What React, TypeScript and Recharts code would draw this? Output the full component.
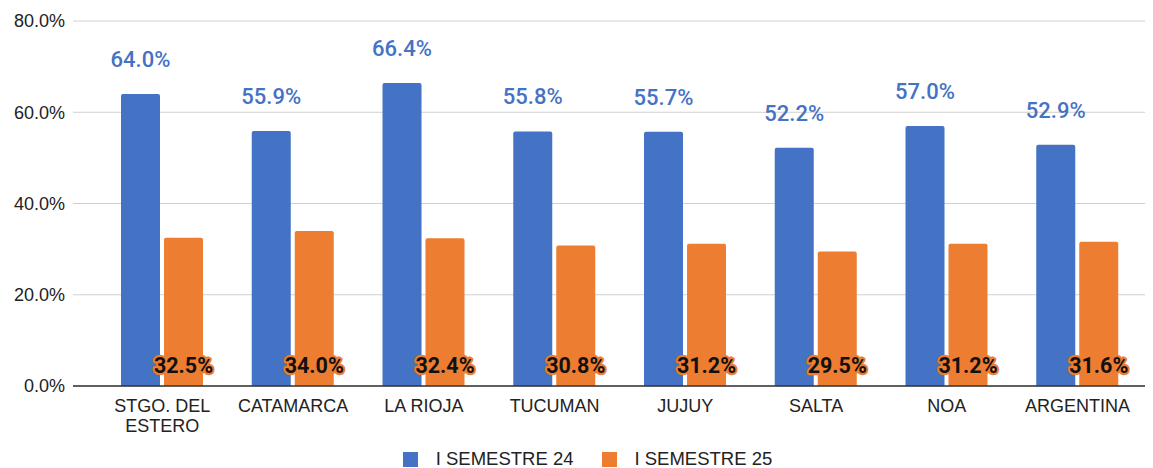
import { BarChart, Bar, XAxis, YAxis, CartesianGrid, Legend, LabelList } from 'recharts'

const regions = ['STGO. DEL ESTERO', 'CATAMARCA', 'LA RIOJA', 'TUCUMAN', 'JUJUY', 'SALTA', 'NOA', 'ARGENTINA']
const sem24 = [64.0, 55.9, 66.4, 55.8, 55.7, 52.2, 57.0, 52.9]
const sem25 = [32.5, 34.0, 32.4, 30.8, 31.2, 29.5, 31.2, 31.6]
const yTicks = [0, 20, 40, 60, 80]

const BLUE = '#4472C4'
const ORANGE = '#ED7D31'
const AXIS_FONT = "'Liberation Sans', Arial, sans-serif"
const LABEL_FONT = "Roboto, 'Liberation Sans', sans-serif"

const data = regions.map((name, i) => ({ name, s24: sem24[i], s25: sem25[i] }))

const pct = (v: number) => `${v.toFixed(1)}%`

// split "STGO. DEL ESTERO" onto two lines
function RegionTick(props: any) {
  const { x, y, payload } = props
  const label: string = payload.value
  const lines = label === 'STGO. DEL ESTERO' ? ['STGO. DEL', 'ESTERO'] : [label]
  return (
    <text x={x} y={y} textAnchor="middle" fill="#222" fontSize={18} fontFamily={AXIS_FONT}>
      {lines.map((l, i) => (
        <tspan key={i} x={x} dy={i === 0 ? 18 : 20}>
          {l}
        </tspan>
      ))}
    </text>
  )
}

// orange labels sit near the baseline, black text with an orange halo
function BottomLabel(props: any) {
  const { x, y, width, height, value } = props
  return (
    <text
      x={x + width / 2}
      y={y + height - 13}
      textAnchor="middle"
      fontSize={21.5}
      fontWeight={700}
      fontFamily={LABEL_FONT}
      fill="#111"
      stroke={ORANGE}
      strokeWidth={4.5}
      strokeLinejoin="round"
      paintOrder="stroke"
    >
      {pct(value)}
    </text>
  )
}

function LegendContent() {
  const items = [
    { label: 'I SEMESTRE 24', color: BLUE },
    { label: 'I SEMESTRE 25', color: ORANGE },
  ]
  return (
    <div style={{ display: 'flex', justifyContent: 'center', gap: 28, paddingLeft: 30, fontFamily: AXIS_FONT, fontSize: 18.5, lineHeight: '22px', color: '#222' }}>
      {items.map((it) => (
        <div key={it.label} style={{ display: 'flex', alignItems: 'center', gap: 18 }}>
          <span style={{ width: 15, height: 15, background: it.color, display: 'inline-block' }} />
          <span>{it.label}</span>
        </div>
      ))}
    </div>
  )
}

export default function App() {
  return (
    <div style={{ position: 'absolute', left: 0, top: 0, background: '#fff' }}>
      <BarChart
        width={1153}
        height={468}
        data={data}
        margin={{ top: 21, right: 8, left: 0, bottom: 0 }}
        barCategoryGap={24}
        barGap={4}
      >
        <CartesianGrid vertical={false} stroke="#d0d0d0" />
        <XAxis
          dataKey="name"
          interval={0}
          tick={<RegionTick />}
          tickLine={false}
          axisLine={{ stroke: '#333', strokeWidth: 1.5 }}
          height={62}
          padding={{ left: 24, right: 2 }}
        />
        <YAxis
          domain={[0, 80]}
          ticks={yTicks}
          tickFormatter={pct}
          axisLine={false}
          tickLine={false}
          width={73}
          tickMargin={2}
          tick={{ fill: '#222', fontSize: 18, fontFamily: AXIS_FONT }}
        />
        <Legend verticalAlign="bottom" height={20} content={<LegendContent />} />
        <Bar dataKey="s24" name="I SEMESTRE 24" fill={BLUE} radius={[2, 2, 0, 0]} isAnimationActive={false}>
          <LabelList
            dataKey="s24"
            position="top"
            offset={27}
            formatter={(v: any) => pct(Number(v))}
            fill={BLUE}
            fontSize={22}
            fontWeight={500}
            fontFamily={LABEL_FONT}
          />
        </Bar>
        <Bar dataKey="s25" name="I SEMESTRE 25" fill={ORANGE} radius={[2, 2, 0, 0]} isAnimationActive={false}>
          <LabelList dataKey="s25" content={<BottomLabel />} />
        </Bar>
      </BarChart>
    </div>
  )
}
